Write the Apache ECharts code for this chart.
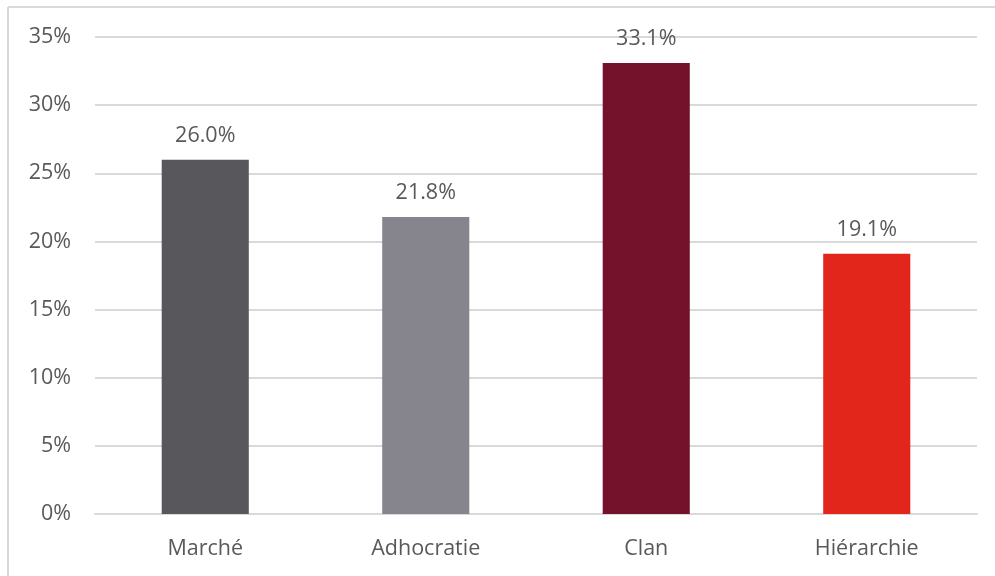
<!DOCTYPE html>
<html>
<head>
<meta charset="utf-8">
<script src="https://cdn.jsdelivr.net/npm/echarts@6/dist/echarts.min.js"></script>
<style>
  html, body { margin: 0; padding: 0; background: #fff; }
  #chart { width: 995px; height: 576px; }
</style>
</head>
<body>
<div id="chart"></div>
<script>
// Culture types and their shares (%)
const categories = ['Marché', 'Adhocratie', 'Clan', 'Hiérarchie'];
const shares = [26.0, 21.8, 33.1, 19.1];
const barColors = ['#58575c', '#86858e', '#74122b', '#e2261b'];
const yTicks = [0, 5, 10, 15, 20, 25, 30, 35];

const FONT = '"Open Sans", "Segoe UI", sans-serif';
const TEXT = '#595959';
const SIZE = 21.5;

const chart = echarts.init(document.getElementById('chart'), null, { renderer: 'canvas' });

chart.setOption({
  animation: false,
  backgroundColor: '#ffffff',
  graphic: [
    // frame around the chart area (top and left edges visible)
    { type: 'line', shape: { x1: 8, y1: 7, x2: 995, y2: 7 }, style: { stroke: '#d9d9d9', lineWidth: 2 } },
    { type: 'line', shape: { x1: 8, y1: 7, x2: 8, y2: 576 }, style: { stroke: '#d9d9d9', lineWidth: 2 } }
  ],
  grid: { left: 95, right: 18, top: 37, bottom: 62, containLabel: false },
  xAxis: {
    type: 'category',
    data: categories,
    axisLine: { show: true, lineStyle: { color: '#d9d9d9', width: 2 } },
    axisTick: { show: false },
    axisLabel: { color: TEXT, fontFamily: FONT, fontSize: SIZE, margin: 24 }
  },
  yAxis: {
    type: 'value',
    min: yTicks[0],
    max: yTicks[yTicks.length - 1],
    interval: 5,
    axisLine: { show: false },
    axisTick: { show: false },
    splitLine: { lineStyle: { color: '#d9d9d9', width: 2 } },
    axisLabel: { color: TEXT, fontFamily: FONT, fontSize: SIZE, margin: 24, formatter: v => v + '%' }
  },
  series: [{
    type: 'bar',
    barWidth: '39.5%',
    data: shares.map((v, i) => ({ value: v, itemStyle: { color: barColors[i] } })),
    label: {
      show: true,
      position: 'top',
      distance: 13,
      color: TEXT,
      fontFamily: FONT,
      fontSize: SIZE,
      formatter: p => p.value.toFixed(1) + '%'
    }
  }]
});
</script>
</body>
</html>
